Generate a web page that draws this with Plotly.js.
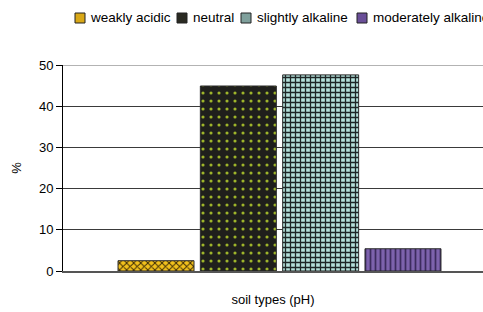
<!DOCTYPE html>
<html>
<head>
<meta charset="utf-8">
<script src="https://cdn.plot.ly/plotly-3.0.1.min.js"></script>
<style>html,body{margin:0;padding:0;background:#fff;overflow:hidden}#chart{width:483px;height:312px}</style>
</head>
<body>
<div id="chart"></div>
<script>
var seriesNames = ['weakly acidic', 'neutral', 'slightly alkaline', 'moderately alkaline'];
var seriesValues = [2.5, 44.9, 47.6, 5.4];
var category = ['soil'];
var yTicks = [0, 10, 20, 30, 40, 50];

var patterns = [
  {bg: '#f2c11c', fg: '#3b2a05', shape: 'x', size: 5, solidity: 0.35, box: '#d9a818'},
  {bg: '#1f1f1c', fg: '#9fb52a', shape: '.', size: 8, solidity: 0.12, box: '#2a2a22'},
  {bg: '#b4e0da', fg: '#1e2626', shape: '+', size: 5, solidity: 0.45, box: '#7fa09c'},
  {bg: '#7d62ad', fg: '#3c2b5e', shape: '|', size: 5, solidity: 0.35, box: '#6a4f98'}
];

var traces = seriesNames.map(function (name, i) {
  return {
    type: 'bar',
    name: name,
    x: category,
    y: [seriesValues[i]],
    showlegend: false,
    hoverinfo: 'name+y',
    marker: {
      color: patterns[i].bg,
      line: {color: '#2a2a2a', width: 1},
      pattern: {shape: patterns[i].shape, fgcolor: patterns[i].fg, bgcolor: patterns[i].bg,
                size: patterns[i].size, solidity: patterns[i].solidity, fillmode: 'replace'}
    }
  };
});

var L = 63, W = 420, T = 65, H = 206;
function px2x(p) { return (p - L) / W; }
function py2y(p) { return 1 - (p - T) / H; }

var boxX = [75, 177, 241, 357];
var textX = [88, 191, 255, 371];
var legY = 18;

var shapes = [{
  type: 'line', xref: 'paper', yref: 'y', x0: 0, x1: 1, y0: 50, y1: 50,
  line: {color: '#9a9a9a', width: 1.5}
}];
var annotations = [];
seriesNames.forEach(function (name, i) {
  shapes.push({
    type: 'rect', xref: 'paper', yref: 'paper',
    x0: px2x(boxX[i]), x1: px2x(boxX[i] + 10), y0: py2y(legY + 5), y1: py2y(legY - 5),
    fillcolor: patterns[i].box, line: {color: '#222', width: 1}
  });
  annotations.push({
    xref: 'paper', yref: 'paper', x: px2x(textX[i]), y: py2y(legY),
    xanchor: 'left', yanchor: 'middle', showarrow: false, text: name,
    font: {family: 'Liberation Sans, Arial, sans-serif', size: 13.5, color: '#000'}
  });
});

var layout = {
  width: 483, height: 312,
  margin: {l: L, r: 0, t: T, b: 312 - T - H, pad: 0},
  paper_bgcolor: '#fff', plot_bgcolor: '#fff',
  font: {family: 'Liberation Sans, Arial, sans-serif', size: 12, color: '#000'},
  barmode: 'group', bargap: 0.2395, bargroupgap: 0.077,
  showlegend: false,
  xaxis: {
    type: 'category', range: [-0.5, -0.5 + 420 / 433],
    showticklabels: false, ticks: '', showgrid: false, zeroline: false,
    showline: true, linecolor: '#555', linewidth: 2,
    title: {text: 'soil types (pH)', font: {size: 13}, standoff: 23}
  },
  yaxis: {
    range: [0, 50], tickvals: yTicks, ticktext: yTicks.map(String),
    ticks: 'outside', ticklen: 6, tickcolor: '#000', tickwidth: 1,
    showline: true, linecolor: '#000', linewidth: 1,
    showgrid: true, gridcolor: '#3a3a3a', gridwidth: 1, zeroline: false,
    tickfont: {size: 13},
    title: {text: '%', font: {size: 13}, standoff: 14}
  },
  shapes: shapes,
  annotations: annotations
};

Plotly.newPlot('chart', traces, layout, {displayModeBar: false, staticPlot: true});
</script>
</body>
</html>
